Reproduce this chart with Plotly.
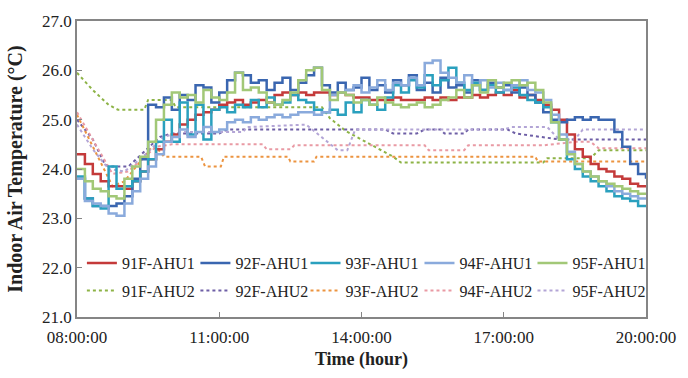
import pandas as pd
import plotly.graph_objects as go

# Sampling times of the AHU1 logs (10-minute interval, 08:00-20:00)
times_ahu1 = pd.date_range("2000-01-01 08:00", "2000-01-01 20:00", freq="10min")

# Indoor air temperature (°C), AHU1 zones
t91_ahu1 = [24.30, 24.10, 23.90, 23.75, 23.65, 23.65, 23.60, 23.75, 23.95, 24.20,
            24.40, 24.55, 24.70, 24.90, 25.00, 25.10, 25.15, 25.20, 25.30, 25.35,
            25.40, 25.30, 25.35, 25.40, 25.35, 25.50, 25.55, 25.50, 25.55, 25.50,
            25.55, 25.55, 25.50, 25.55, 25.50, 25.45, 25.45, 25.40, 25.40, 25.40,
            25.45, 25.40, 25.40, 25.40, 25.45, 25.40, 25.45, 25.40, 25.45, 25.45,
            25.50, 25.45, 25.50, 25.55, 25.50, 25.60, 25.45, 25.50, 25.40, 25.30,
            25.20, 25.00, 24.70, 24.40, 24.25, 24.10, 24.00, 23.95, 23.85, 23.80,
            23.70, 23.65, 23.65]
t92_ahu1 = [23.80, 23.40, 23.25, 23.25, 23.25, 23.30, 23.45, 23.80, 24.20, 25.30,
            25.25, 25.45, 25.20, 25.50, 25.40, 25.70, 25.65, 25.35, 25.55, 25.80,
            25.95, 25.90, 25.75, 25.80, 25.60, 25.75, 25.85, 25.60, 25.75, 25.90,
            26.05, 25.70, 25.55, 25.75, 25.60, 25.65, 25.85, 25.60, 25.70, 25.55,
            25.80, 25.70, 25.90, 25.60, 25.75, 25.55, 25.85, 25.65, 25.70, 25.55,
            25.80, 25.60, 25.75, 25.65, 25.70, 25.55, 25.65, 25.50, 25.35, 25.15,
            25.00, 24.95, 25.00, 25.05, 25.00, 25.05, 25.00, 25.00, 24.75, 24.45,
            24.10, 23.90, 23.80]
t93_ahu1 = [23.85, 23.40, 23.25, 23.20, 24.05, 23.60, 23.65, 23.75, 23.95, 24.20,
            24.55, 25.00, 24.55, 25.35, 24.70, 25.30, 24.60, 25.20, 25.25, 25.15,
            25.30, 25.25, 25.40, 25.25, 25.45, 25.30, 25.35, 25.50, 25.40, 25.35,
            25.20, 25.15, 25.20, 25.10, 25.35, 25.15, 25.40, 25.30, 25.20, 25.45,
            25.70, 25.55, 25.80, 25.65, 25.90, 25.70, 25.80, 26.05, 25.75, 25.60,
            25.75, 25.60, 25.70, 25.55, 25.60, 25.65, 25.50, 25.40, 25.35, 25.25,
            24.95, 24.60, 24.20, 24.00, 23.85, 23.75, 23.65, 23.55, 23.45, 23.40,
            23.35, 23.25, 23.25]
t94_ahu1 = [23.80, 23.35, 23.30, 23.25, 23.10, 23.05, 23.30, 23.55, 23.80, 24.05,
            24.30, 24.55, 24.65, 24.80, 24.65, 24.75, 24.85, 24.75, 24.80, 24.95,
            25.00, 24.95, 25.05, 25.00, 25.05, 25.10, 25.05, 25.10, 25.15, 25.15,
            25.10, 25.15, 25.50, 25.55, 25.60, 25.70, 25.55, 25.65, 25.80, 25.60,
            25.75, 25.70, 25.85, 25.70, 26.15, 26.20, 25.95, 25.85, 25.75, 25.90,
            25.70, 25.80, 25.65, 25.75, 25.60, 25.70, 25.80, 25.60, 25.55, 25.40,
            25.10, 24.70, 24.35, 24.10, 23.95, 23.85, 23.75, 23.65, 23.55, 23.50,
            23.45, 23.40, 23.40]
t95_ahu1 = [24.00, 23.75, 23.60, 23.55, 23.45, 23.40, 23.80, 24.05, 24.25, 24.55,
            25.00, 25.30, 25.55, 25.45, 25.50, 25.35, 25.60, 25.45, 25.40, 25.55,
            25.95, 25.60, 25.65, 25.55, 25.35, 25.30, 25.40, 25.55, 25.80, 26.00,
            26.05, 25.60, 25.40, 25.55, 25.50, 25.35, 25.40, 25.30, 25.45, 25.35,
            25.30, 25.25, 25.30, 25.35, 25.25, 25.30, 25.40, 25.45, 25.60, 25.45,
            25.70, 25.55, 25.80, 25.65, 25.75, 25.80, 25.70, 25.75, 25.60, 25.35,
            24.95, 24.60, 24.30, 24.10, 23.95, 23.85, 23.75, 23.70, 23.65, 23.60,
            23.55, 23.50, 23.50]

# AHU2 zones: logged change points (time, °C)
t91_ahu2_time = ["08:00", "08:20", "08:40", "08:52", "09:25", "09:30", "10:00", "10:05",
                 "13:10", "13:20", "13:40", "14:10", "14:25", "14:40", "14:50", "17:50",
                 "17:55", "18:50", "19:00", "20:00"]
t91_ahu2 = [25.95, 25.60, 25.30, 25.20, 25.20, 25.40, 25.40, 25.25,
            25.25, 25.03, 24.77, 24.50, 24.38, 24.25, 24.13, 24.13,
            24.22, 24.22, 24.38, 24.38]
t92_ahu2_time = ["08:00", "08:20", "08:35", "08:40", "09:05", "09:15", "09:45", "10:00",
                 "11:00", "11:10", "14:30", "14:40", "15:10", "15:20", "15:40", "15:45",
                 "16:10", "16:15", "17:05", "17:15", "18:10", "20:00"]
t92_ahu2 = [25.00, 24.60, 24.10, 24.05, 24.05, 24.20, 24.65, 24.72,
            24.72, 24.80, 24.80, 24.72, 24.72, 24.80, 24.80, 24.72,
            24.72, 24.80, 24.80, 24.72, 24.60, 24.60]
t93_ahu2_time = ["08:00", "08:45", "09:00", "09:35", "09:40", "09:50", "10:37", "10:42",
                 "11:02", "11:06", "12:27", "12:30", "13:00", "13:03", "17:40", "17:43",
                 "20:00"]
t93_ahu2 = [25.10, 23.65, 23.75, 24.45, 24.45, 24.25, 24.25, 24.05,
            24.05, 24.25, 24.25, 24.15, 24.15, 24.25, 24.25, 24.15,
            24.15]
t94_ahu2_time = ["08:00", "08:45", "09:05", "09:40", "10:00", "11:55", "12:00", "12:30",
                 "12:35", "15:20", "15:25", "16:10", "16:15", "17:50", "18:30", "18:50",
                 "19:00", "20:00"]
t94_ahu2 = [25.15, 23.90, 23.95, 24.45, 24.50, 24.50, 24.40, 24.40,
            24.48, 24.48, 24.38, 24.38, 24.48, 24.48, 24.55, 24.55,
            24.42, 24.42]
t95_ahu2_time = ["08:00", "08:20", "08:40", "09:00", "09:20", "09:50", "10:10", "11:30",
                 "11:35", "12:50", "13:30", "13:42", "13:52", "17:00", "17:10", "17:55",
                 "18:10", "18:30", "18:40", "20:00"]
t95_ahu2 = [24.90, 24.40, 24.00, 23.95, 24.20, 24.65, 24.75, 24.75,
            24.85, 24.90, 24.38, 24.38, 24.80, 24.80, 24.85, 24.85,
            24.60, 24.60, 24.80, 24.80]

names_ahu1 = ["91F-AHU1", "92F-AHU1", "93F-AHU1", "94F-AHU1", "95F-AHU1"]
names_ahu2 = ["91F-AHU2", "92F-AHU2", "93F-AHU2", "94F-AHU2", "95F-AHU2"]
colors_ahu1 = ["#C43A3A", "#3A66B0", "#2AA0BE", "#8AAADC", "#A2C877"]
colors_ahu2 = ["#8DB346", "#6E5FA6", "#EC9440", "#E99AA4", "#B3A5D6"]

ahu1_series = [t91_ahu1, t92_ahu1, t93_ahu1, t94_ahu1, t95_ahu1]
ahu2_series = [(t91_ahu2_time, t91_ahu2), (t92_ahu2_time, t92_ahu2),
               (t93_ahu2_time, t93_ahu2), (t94_ahu2_time, t94_ahu2),
               (t95_ahu2_time, t95_ahu2)]

FONT = "Liberation Serif, Times New Roman, serif"

# legend grid: 5 columns (floor), 2 rows (AHU1 on top, AHU2 below)
legend_cols = [0.0086, 0.2081, 0.4016, 0.6019, 0.8005]
legend_rows = [0.182, 0.089]

fig = go.Figure()

# dotted AHU2 curves underneath
for k, (name, color, (tt, vals)) in enumerate(zip(names_ahu2, colors_ahu2, ahu2_series)):
    fig.add_trace(go.Scatter(
        x=["2000-01-01 " + t for t in tt], y=vals, name=name, mode="lines",
        line=dict(color=color, width=2, dash="dot"), legend=f"legend{k + 6}"))

# solid AHU1 step curves on top
for k, (name, color, vals) in enumerate(zip(names_ahu1, colors_ahu1, ahu1_series)):
    fig.add_trace(go.Scatter(
        x=times_ahu1, y=vals, name=name, mode="lines",
        line=dict(color=color, width=2.5, shape="hv"),
        legend="legend" if k == 0 else f"legend{k + 1}"))

legend_common = dict(orientation="h", xanchor="left", yanchor="middle",
                     font=dict(family=FONT, size=16, color="#222"),
                     bgcolor="rgba(0,0,0,0)", itemwidth=30)

legends = {}
for row, ry in enumerate(legend_rows):
    for col, cx in enumerate(legend_cols):
        idx = row * 5 + col + 1
        key = "legend" if idx == 1 else f"legend{idx}"
        legends[key] = dict(x=cx, y=ry, **legend_common)

fig.update_layout(
    width=688, height=378,
    margin=dict(l=77, r=32, t=16, b=55),
    paper_bgcolor="white", plot_bgcolor="white",
    font=dict(family=FONT, color="#222"),
    showlegend=True,
    **legends,
    xaxis=dict(
        type="date",
        range=["2000-01-01 08:00", "2000-01-01 20:00"],
        tickvals=["2000-01-01 08:00", "2000-01-01 11:00", "2000-01-01 14:00",
                  "2000-01-01 17:00", "2000-01-01 20:00"],
        tickformat="%H:%M:%S",
        ticks="inside", ticklen=5, tickcolor="#858585", tickwidth=1.2,
        ticklabelstandoff=4,
        showline=True, linecolor="#858585", linewidth=1.5, mirror=True,
        showgrid=False, zeroline=False,
        tickfont=dict(family=FONT, size=17, color="#222"),
        title=dict(text="<b>Time (hour)</b>", font=dict(family=FONT, size=18, color="#222"),
                   standoff=6),
    ),
    yaxis=dict(
        range=[21, 27], dtick=1, tick0=21, tickformat=".1f",
        ticks="inside", ticklen=5, tickcolor="#858585", tickwidth=1.2,
        showline=True, linecolor="#858585", linewidth=1.5, mirror=True,
        showgrid=False, zeroline=False,
        tickfont=dict(family=FONT, size=17, color="#222"),
        title=dict(text="<b>Indoor Air Temperature (°C)</b>",
                   font=dict(family=FONT, size=20, color="#222"), standoff=14),
    ),
)

fig.write_html("out.html")
